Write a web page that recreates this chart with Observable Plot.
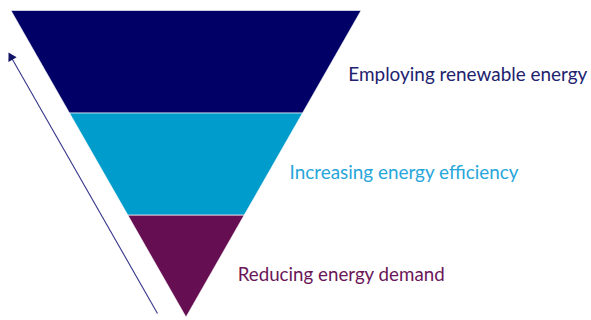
<!DOCTYPE html>
<html>
<head>
<meta charset="utf-8">
<script src="https://cdn.jsdelivr.net/npm/d3@7"></script>
<script src="https://cdn.jsdelivr.net/npm/@observablehq/plot@0.6"></script>
<style>
  html, body { margin: 0; padding: 0; background: #fff; }
  #chart svg { display: block; }
</style>
</head>
<body>
<div id="chart"></div>
<script>
// Bands of the inverted pyramid, from the apex (bottom) upward
const bands = ["Reducing energy demand", "Increasing energy efficiency", "Employing renewable energy"];
const bandSizes = [1, 1, 1];
const bandColors = ["#660E52", "#009CCB", "#000066"];
const labelColors = ["#6A1659", "#27A6DA", "#22226F"];
// Arrow runs along the left side, from near the apex up towards the top
const arrowFrom = 0.04;
const arrowTo = 2.59;

const total = d3.sum(bandSizes);
const cum = d3.cumsum(bandSizes);
const lows = cum.map((c, i) => c - bandSizes[i]);

const areaRows = bands.flatMap((b, i) => [
  {band: b, level: lows[i]},
  {band: b, level: cum[i]}
]);
const labelRows = bands.map((b, i) => ({band: b, level: (lows[i] + cum[i]) / 2, color: labelColors[i]}));

const W = 591, H = 320;
const xRange = [11, 361], yRange = [317, 10.5];
const pxPerX = (xRange[1] - xRange[0]) / (2 * total);
const pxPerY = (yRange[0] - yRange[1]) / total;
const arrowOffset = 26.7 / pxPerX; // horizontal gap between arrow and pyramid edge
const dirX = -(arrowTo - arrowFrom) * pxPerX, dirY = -(arrowTo - arrowFrom) * pxPerY;
const angle = Math.atan2(dirX, -dirY) * 180 / Math.PI;
const headBack = 5 / Math.hypot(dirX, dirY) * (arrowTo - arrowFrom);

const arrowRow = [{x1: -arrowFrom - arrowOffset, y1: arrowFrom, x2: -(arrowTo - headBack) - arrowOffset, y2: arrowTo - headBack}];

const font = "Lato, 'Open Sans', sans-serif";
const fs = 18.5;
const labelMark = (i, dx, dy) => Plot.text([labelRows[i]], {
  x: d => d.level, y: "level", text: "band", fill: d => d.color,
  textAnchor: "start", dx, dy, fontSize: fs, fontFamily: font
});

const chart = Plot.plot({
  width: W, height: H,
  margin: 0,
  x: {domain: [-total, total], range: xRange, axis: null},
  y: {domain: [0, total], range: yRange, axis: null},
  color: {domain: bands, range: bandColors},
  marks: [
    Plot.areaX(areaRows, {y: "level", x1: d => -d.level, x2: "level", fill: "band", z: "band", stroke: "#ffffff", strokeWidth: 0.6, curve: "linear"}),
    Plot.link(arrowRow, {x1: "x1", y1: "y1", x2: "x2", y2: "y2", stroke: "#35358A", strokeWidth: 1.1}),
    Plot.dot(arrowRow, {x: "x2", y: "y2", symbol: "triangle", r: 3.5, fill: "#141466", stroke: "none", rotate: angle}),
    labelMark(2, 16, 13),
    labelMark(1, 15.5, 8.9),
    labelMark(0, 22, 8.7)
  ]
});

// Fit label widths to the reference's typeface
const labelWidths = {"Employing renewable energy": 239, "Increasing energy efficiency": 229, "Reducing energy demand": 207};
chart.querySelectorAll('g[aria-label="text"] text').forEach(t => {
  const w = labelWidths[t.textContent];
  if (w) { t.setAttribute("textLength", w); t.setAttribute("lengthAdjust", "spacingAndGlyphs"); }
});
document.getElementById("chart").appendChild(chart);
</script>
</body>
</html>
